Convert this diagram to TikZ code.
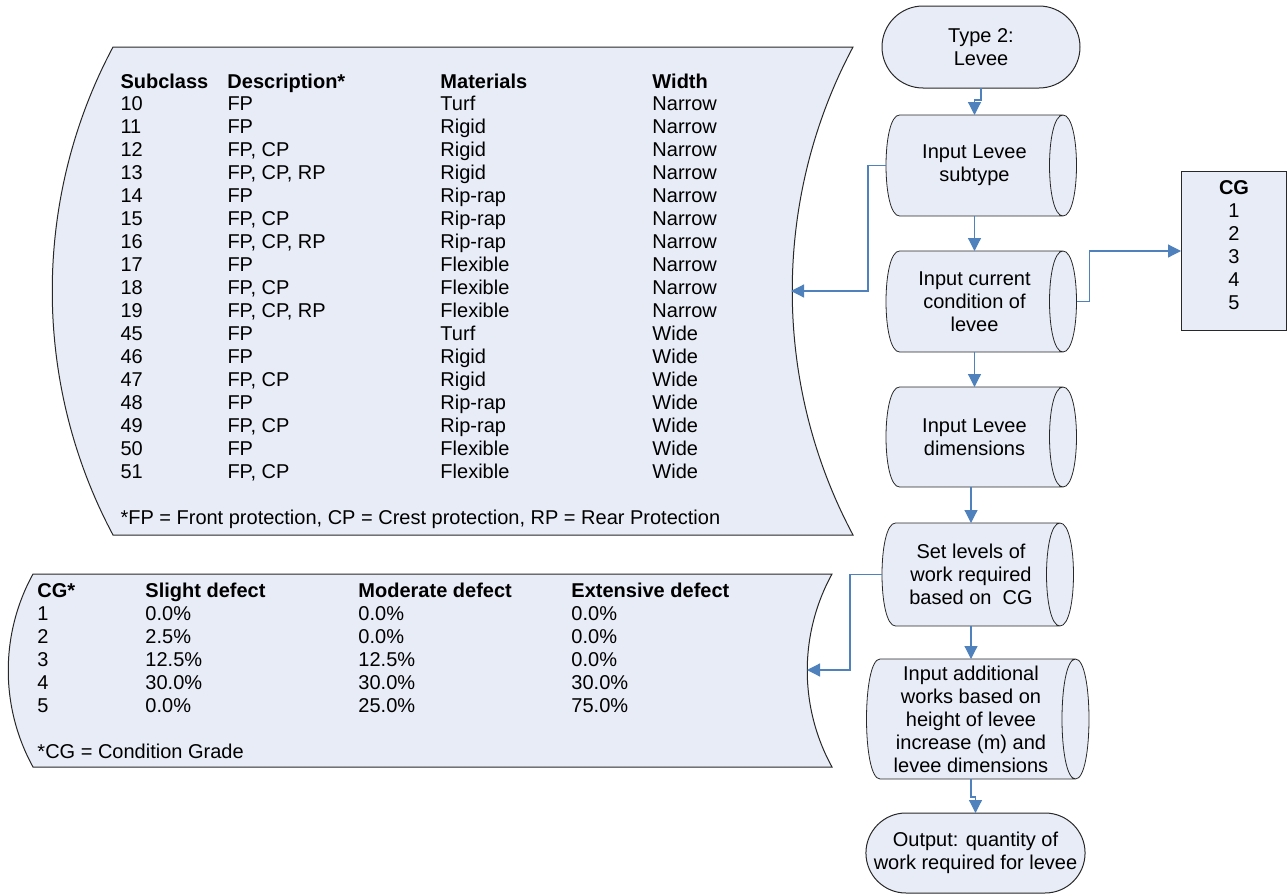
\documentclass[tikz,border=0pt]{standalone}
\usepackage{fontspec}
\setmainfont{Liberation Sans}
\usetikzlibrary{positioning,shapes.misc,arrows.meta,backgrounds}

\definecolor{shapefill}{RGB}{231,236,246}
\definecolor{outline}{RGB}{40,40,40}
\definecolor{linkblue}{RGB}{79,129,189}
\setlength{\tabcolsep}{0pt}

\tikzset{
  terminal/.style={rounded rectangle, draw=outline, fill=shapefill, align=center, inner sep=1pt, outer sep=0pt},
  storage/.style={rectangle, align=center, inner sep=0pt, outer sep=0pt},
  link/.style={draw=linkblue, line width=0.6pt, -{Triangle[width=6.5pt,length=6.5pt,fill=linkblue]}}
}

\begin{document}
\begin{tikzpicture}[
    x=0.5pt, y=-0.5pt,
    node distance=17.5pt,
    line width=0.5pt,
    every node/.style={font=\fontsize{10}{11.5}\selectfont}
  ]
  \useasboundingbox (0,0) rectangle (1287,894);

  % subclass table
  \draw[draw=outline, fill=shapefill] (113,47) -- (853,47)
    .. controls (772,199) and (772,383) .. (853,535) -- (113,535)
    .. controls (32,383) and (32,199) .. (113,47) -- cycle;
  \node[anchor=base west, inner sep=0pt] (subclass) at (120,88) {%
    \begin{tabular}[t]{@{}p{53.5pt}p{106.5pt}p{106pt}l@{}}
      \textbf{Subclass} & \textbf{Description*} & \textbf{Materials} & \textbf{Width}\\
      10 & FP & Turf & Narrow\\
      11 & FP & Rigid & Narrow\\
      12 & FP, CP & Rigid & Narrow\\
      13 & FP, CP, RP & Rigid & Narrow\\
      14 & FP & Rip-rap & Narrow\\
      15 & FP, CP & Rip-rap & Narrow\\
      16 & FP, CP, RP & Rip-rap & Narrow\\
      17 & FP & Flexible & Narrow\\
      18 & FP, CP & Flexible & Narrow\\
      19 & FP, CP, RP & Flexible & Narrow\\
      45 & FP & Turf & Wide\\
      46 & FP & Rigid & Wide\\
      47 & FP, CP & Rigid & Wide\\
      48 & FP & Rip-rap & Wide\\
      49 & FP, CP & Rip-rap & Wide\\
      50 & FP & Flexible & Wide\\
      51 & FP, CP & Flexible & Wide\\
      \\
      \multicolumn{4}{@{}l@{}}{*FP = Front protection, CP = Crest protection, RP = Rear Protection}
    \end{tabular}};
  \coordinate (subclass-in) at (791,291);

  % condition grade table
  \draw[draw=outline, fill=shapefill] (33,574) -- (832,574)
    .. controls (799,634) and (799,707) .. (832,767) -- (33,767)
    .. controls (0,707) and (0,634) .. (33,574) -- cycle;
  \node[anchor=base west, inner sep=0pt] (grades) at (37,597) {%
    \begin{tabular}[t]{@{}p{54pt}p{106.5pt}p{106.5pt}l@{}}
      \textbf{CG*} & \textbf{Slight defect} & \textbf{Moderate defect} & \textbf{Extensive defect}\\
      1 & 0.0\% & 0.0\% & 0.0\%\\
      2 & 2.5\% & 0.0\% & 0.0\%\\
      3 & 12.5\% & 12.5\% & 0.0\%\\
      4 & 30.0\% & 30.0\% & 30.0\%\\
      5 & 0.0\% & 25.0\% & 75.0\%\\
      \\
      \multicolumn{4}{@{}l@{}}{*CG = Condition Grade}
    \end{tabular}};
  \coordinate (grades-in) at (807,670);

  % condition grade list
  \node[draw=outline, fill=shapefill, anchor=north west, align=center,
    minimum width=52.5pt, minimum height=79.5pt] (cglist) at (1181,171)
    {\textbf{CG}\\1\\2\\3\\4\\5\\[-5.5pt]};

  % flow
  \node[terminal, minimum width=101pt, minimum height=41pt] (type2) at (981,47) {Type 2:\\Levee};
  \node[storage, below=13.5pt of type2, xshift=-3.25pt, minimum width=88.5pt, minimum height=50.5pt] (subtype)
    {Input Levee\\subtype};
  \node[storage, below=of subtype, minimum width=88.5pt, minimum height=50.5pt] (current)
    {Input current\\condition of\\levee};
  \node[storage, below=of current, minimum width=88.5pt, minimum height=50pt] (dims)
    {Input Levee\\dimensions};
  \node[storage, below=18pt of dims, xshift=-1.75pt, minimum width=89pt, minimum height=51.5pt] (setlevels)
    {Set levels of\\work required\\based on~~CG};
  \node[storage, below=16.5pt of setlevels, minimum width=104.5pt, minimum height=60pt] (extra)
    {Input additional\\works based on\\height of levee\\increase (m) and\\levee dimensions};
  \node[terminal, below=17pt of extra, xshift=2.25pt, minimum width=109pt, minimum height=40pt] (output)
    {Output: quantity of\\work required for levee};

  % storage symbols behind their text
  \begin{scope}[on background layer]
    \foreach \n in {subtype,current,dims,setlevels,extra}
      \draw[draw=outline, fill=shapefill]
        ([xshift=6.75pt]\n.north west) -- (\n.north east)
        .. controls +(18,0) and +(18,0) .. (\n.south east)
        -- ([xshift=6.75pt]\n.south west)
        .. controls +(-18,0) and +(-18,0) .. ([xshift=6.75pt]\n.north west) -- cycle
        (\n.south east) .. controls +(-18,0) and +(-18,0) .. (\n.north east);
  \end{scope}

  \draw[link] (type2.south) -- ++(0,12) -| (subtype.north);
  \draw[link] (subtype) -- (current);
  \draw[link] (current) -- (dims);
  \draw[link] (dims.south -| setlevels.north) -- (setlevels.north);
  \draw[link] (setlevels) -- (extra);
  \draw[link] (extra.south) -- ++(0,18) -| (output.north);
  \draw[link] (subtype.west) -- ++(-18,0) |- (subclass-in);
  \draw[link] ([xshift=6.75pt]current.east) -- ++(13,0) |- (cglist.west);
  \draw[link] (setlevels.west) -- ++(-32,0) |- (grades-in);
\end{tikzpicture}
\end{document}
